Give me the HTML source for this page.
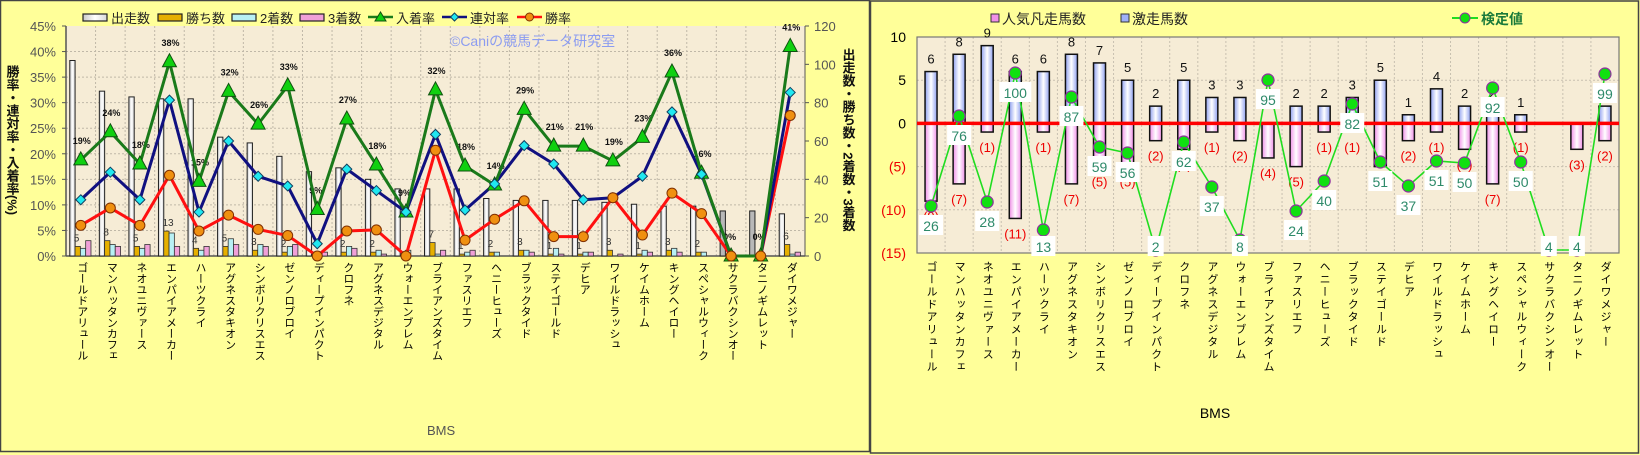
<!DOCTYPE html>
<html><head><meta charset="utf-8">
<style>
body{margin:0;background:#fff;}
svg{display:block;font-family:"Liberation Sans","Noto Sans CJK JP",sans-serif;}
</style></head>
<body>
<svg id="s" width="1640" height="455" xmlns="http://www.w3.org/2000/svg">
<defs>
<linearGradient id="gw" x1="0" x2="1"><stop offset="0" stop-color="#c8c8c8"/><stop offset="0.5" stop-color="#ffffff"/><stop offset="1" stop-color="#d8d8d8"/></linearGradient>
<linearGradient id="gb" x1="0" x2="1"><stop offset="0" stop-color="#8fa0f0"/><stop offset="0.5" stop-color="#ffffff"/><stop offset="1" stop-color="#8fa0f0"/></linearGradient>
<linearGradient id="gp" x1="0" x2="1"><stop offset="0" stop-color="#f090e8"/><stop offset="0.5" stop-color="#ffffff"/><stop offset="1" stop-color="#f090e8"/></linearGradient>
</defs>
<rect x="0" y="0" width="1640" height="455" fill="#ffff99"/>
<rect x="0.5" y="0.5" width="869" height="451" fill="#ffff99" stroke="#444" stroke-width="1.5"/>
<rect x="870.5" y="1" width="768" height="452" fill="#ffff99" stroke="#444" stroke-width="1.5"/>
<rect x="66" y="26" width="739" height="230" fill="#f6ecd6"/>
<rect x="917" y="37" width="702" height="216" fill="#f6ecd6"/>
<g id="g"></g>
</svg>
<script>
const NS="http://www.w3.org/2000/svg",G=document.getElementById("g");
function el(t,a,txt){const e=document.createElementNS(NS,t);for(const k in a)e.setAttribute(k,a[k]);if(txt!==undefined)e.textContent=txt;G.appendChild(e);return e;}
const names=["ゴールドアリュール","マンハッタンカフェ","ネオユニヴァース","エンパイアメーカー","ハーツクライ","アグネスタキオン","シンボリクリスエス","ゼンノロブロイ","ディープインパクト","クロフネ","アグネスデジタル","ウォーエンブレム","ブライアンズタイム","ファスリエフ","ヘニーヒューズ","ブラックタイド","ステイゴールド","デヒア","ワイルドラッシュ","ケイムホーム","キングヘイロー","スペシャルウィーク","サクラバクシンオー","タニノギムレット","ダイワメジャー"];
const nyu=[18.8,24.3,18,38,14.6,32.2,25.8,33.3,9.1,26.8,17.8,8.6,32.5,17.6,13.9,28.7,21.5,21.5,18.6,23.2,36,16.2,0,0,41];
const ren=[11,16.4,11,30.5,8.6,22.5,15.6,13.7,2.4,17,12.8,8.6,23.8,9,14.1,21.6,18,11,11.4,15.6,28.2,16,0,0,32];
const win=[6,9.4,6,15.8,4.9,8,5.2,4,0,4.9,5.1,0,20.7,3.1,7.2,10.8,3.8,3.8,11.4,4.1,12.3,8.3,0,0,27.5];
const run=[102,86,83,82,82,62,59,52,44,46,40,35,35,35,30,29,29,29,28,27,26,26,23.5,23.5,22];
const w1=[5,8,5,13,4,5,3,2,0,2,2,0,7,1,2,3,1,1,3,1,3,2,0,0,6];
const w2=[4,6,4,12,3,9,6,5,1,5,3,3,1,2,2,3,4,2,0,3,4,2,0,0,1];
const w3=[8,5,6,5,5,6,5,6,2,4,1,0,3,3,0,2,1,2,1,2,2,0,0,0,2];
const nyuLbl=["19%","24%","18%","38%","15%","32%","26%","33%","9%","27%","18%","9%","32%","18%","14%","29%","21%","21%","19%","23%","36%","16%","0%","0%","41%"];
// LEFT CHART
const X0=66,CW=739/25,YB=256,PY=5.111,CY=1.9167;
const cx=i=>X0+CW*(i+0.5),py=p=>YB-p*PY,cy=c=>YB-c*CY;
for(let k=1;k<25;k++)el("line",{x1:X0+CW*k,x2:X0+CW*k,y1:26,y2:256,stroke:"#c0b8a8","stroke-dasharray":"2,2","stroke-width":1});
for(let k=1;k<9;k++)el("line",{x1:66,x2:805,y1:py(k*5),y2:py(k*5),stroke:"#c0b8a8","stroke-dasharray":"2,2","stroke-width":1});
el("line",{x1:66,x2:66,y1:26,y2:256,stroke:"#555","stroke-width":1.5});
el("line",{x1:66,x2:805,y1:256,y2:256,stroke:"#555","stroke-width":1.5});
el("line",{x1:805,x2:805,y1:26,y2:256,stroke:"#555","stroke-width":1});
for(let k=0;k<=9;k++){el("text",{x:56,y:py(k*5)+5,"text-anchor":"end","font-size":13,fill:"#555"},(k*5)+"%");el("line",{x1:62,x2:66,y1:py(k*5),y2:py(k*5),stroke:"#555"});}
for(let k=0;k<=6;k++){el("text",{x:814,y:cy(k*20)+5,"font-size":13,fill:"#555"},String(k*20));el("line",{x1:805,x2:809,y1:cy(k*20),y2:cy(k*20),stroke:"#555"});}
for(let i=0;i<25;i++){
 const c=cx(i),bw=5.3,b=c-11;
 el("rect",{x:b,y:cy(run[i]),width:bw,height:run[i]*CY,fill:(i==22||i==23)?"#b8b8b8":"url(#gw)",stroke:"#222","stroke-width":1});
 const cols=["#e6b000","#b8f0f4","#f0a0d8"],vals=[w1[i],w2[i],w3[i]];
 for(let j=0;j<3;j++)if(vals[j]>0)el("rect",{x:b+bw*(j+1),y:cy(vals[j]),width:bw,height:vals[j]*CY,fill:cols[j],stroke:"#333","stroke-width":0.8});
 if(w1[i]>0)el("text",{x:b+4,y:cy(w1[i])-5,"font-size":10,fill:"#333"},String(w1[i]));
 el("text",{x:c-8,y:py(nyu[i])-16,"font-size":9,"font-weight":"bold",fill:"#111"},nyuLbl[i]);
 const t=el("text",{x:c+2,y:262,"font-size":11,fill:"#000",style:"writing-mode:vertical-rl;font-family:'Noto Sans CJK JP',sans-serif"},names[i]);
}
function poly(arr,fn,col){el("polyline",{points:arr.map((v,i)=>cx(i)+","+fn(v)).join(" "),fill:"none",stroke:col,"stroke-width":3,"stroke-linejoin":"round"});}
poly(win,py,"#ff1010");poly(ren,py,"#101080");poly(nyu,py,"#1a7a1a");
for(let i=0;i<25;i++){
 const c=cx(i);let y=py(nyu[i]);
 el("polygon",{points:`${c},${y-8} ${c-7},${y+5} ${c+7},${y+5}`,fill:"#10d010",stroke:"#105010","stroke-width":1});
 y=py(ren[i]);el("polygon",{points:`${c},${y-5} ${c+5},${y} ${c},${y+5} ${c-5},${y}`,fill:"#20e8f0",stroke:"#104060","stroke-width":1});
 el("circle",{cx:c,cy:py(win[i]),r:5,fill:"#f09010",stroke:"#803000","stroke-width":1});
}
el("text",{x:450,y:46,"font-size":14,fill:"#8c9cf0"},"©Caniの競馬データ研究室");
// left legend
function lbox(x,f,t){el("rect",{x:x,y:14,width:24,height:7,fill:f,stroke:"#222","stroke-width":1.2});el("text",{x:x+28,y:23,"font-size":13,fill:"#222"},t);}
lbox(83,"url(#gw)","出走数");lbox(158,"#e6b000","勝ち数");lbox(232,"#b8f0f4","2着数");lbox(300,"#f0a0d8","3着数");
el("line",{x1:368,x2:393,y1:17,y2:17,stroke:"#1a7a1a","stroke-width":2.5});el("polygon",{points:"380.5,12 375,21 386,21",fill:"#10d010",stroke:"#105010"});el("text",{x:396,y:23,"font-size":13,fill:"#222"},"入着率");
el("line",{x1:442,x2:467,y1:17,y2:17,stroke:"#101080","stroke-width":2.5});el("polygon",{points:"454.5,13 458.5,17 454.5,21 450.5,17",fill:"#20e8f0",stroke:"#104060"});el("text",{x:470,y:23,"font-size":13,fill:"#222"},"連対率");
el("line",{x1:517,x2:542,y1:17,y2:17,stroke:"#ff1010","stroke-width":2.5});el("circle",{cx:529.5,cy:17,r:4,fill:"#f09010",stroke:"#803000"});el("text",{x:545,y:23,"font-size":13,fill:"#222"},"勝率");
el("text",{x:12,y:140,"font-size":13,fill:"#111","text-anchor":"middle",style:"writing-mode:vertical-rl","font-weight":"bold"},"勝率・連対率・入着率(%)");
el("text",{x:848,y:140,"font-size":13,fill:"#111","text-anchor":"middle",style:"writing-mode:vertical-rl","font-weight":"bold"},"出走数・勝ち数・2着数・3着数");
el("text",{x:427,y:435,"font-size":13,fill:"#555"},"BMS");
// RIGHT CHART
const RX=917,RW=702/25,Z=123.4,U=8.64;
const rx=i=>RX+RW*(i+0.5),ry=v=>Z-v*U;
const pos=[6,8,9,6,6,8,7,5,2,5,3,3,0,2,2,3,5,1,4,2,2,1,0,0,2];
const neg=[9,7,1,11,1,7,5,5,2,3,1,2,4,5,1,1,5,2,1,3,7,1,0,3,2];
const kv=[26,76,28,100,13,87,59,56,2,62,37,8,95,24,40,82,51,37,51,50,92,50,4,4,99];
const ky=[206,116,202,73,230,97,147,153,250,142,187,240,80,211,181,104,162,186,161,163,88,162,250,250,74];
for(let k=1;k<25;k++)el("line",{x1:RX+RW*k,x2:RX+RW*k,y1:37,y2:253,stroke:"#c8c0b0","stroke-dasharray":"2,2"});
for(const v of [5,-5,-10])el("line",{x1:917,x2:1619,y1:ry(v),y2:ry(v),stroke:"#c8c0b0","stroke-dasharray":"2,2"});
el("rect",{x:917,y:37,width:702,height:216,fill:"none",stroke:"#777","stroke-width":1.2});
const tl=[[10,"10","#000"],[5,"5","#000"],[0,"0","#000"],[-5,"(5)","#e00"],[-10,"(10)","#e00"],[-15,"(15)","#e00"]];
for(const [v,t,c] of tl)el("text",{x:906,y:ry(v)+5,"text-anchor":"end","font-size":14,fill:c},t);
for(let i=0;i<25;i++){
 const c=rx(i);
 if(pos[i]>0){el("rect",{x:c-6,y:ry(pos[i]),width:12,height:pos[i]*U,fill:"url(#gb)",stroke:"#111","stroke-width":1.5});}
 if(neg[i]>0){el("rect",{x:c-6,y:Z,width:12,height:neg[i]*U,fill:"url(#gp)",stroke:"#111","stroke-width":1.5});}
 if(pos[i]>0)el("text",{x:c,y:ry(pos[i])-8,"text-anchor":"middle","font-size":13,fill:"#111"},String(pos[i]));
 if(neg[i]>0)el("text",{x:c,y:ry(-neg[i])+20,"text-anchor":"middle","font-size":13,fill:"#e00"},"("+neg[i]+")");
 el("text",{x:c+1,y:261,"font-size":11,fill:"#000","letter-spacing":"1.5",style:"writing-mode:vertical-rl;font-family:'Noto Sans CJK JP',sans-serif"},names[i]);
}
el("line",{x1:917,x2:1619,y1:Z,y2:Z,stroke:"#ff0000","stroke-width":3.5});
el("polyline",{points:kv.map((v,i)=>rx(i)+","+ky[i]).join(" "),fill:"none",stroke:"#20dd20","stroke-width":1.6});
for(let i=0;i<25;i++){
 el("circle",{cx:rx(i),cy:ky[i],r:6,fill:"#10e010",stroke:"#9030a0","stroke-width":1.2});
}
for(let i=0;i<25;i++){
 const ly=Math.min(ky[i]+20,247),t=String(kv[i]),w=t.length*8+8;
 el("rect",{x:rx(i)-w/2,y:ly-11,width:w,height:20,fill:"#fff"});
 el("text",{x:rx(i),y:ly+5,"text-anchor":"middle","font-size":14,fill:"#2e8a6a"},t);
}
el("rect",{x:991,y:14,width:8,height:8,fill:"#f090e8",stroke:"#333"});el("text",{x:1002,y:24,"font-size":14,fill:"#222"},"人気凡走馬数");
el("rect",{x:1121,y:14,width:8,height:8,fill:"#a0b0f8",stroke:"#333"});el("text",{x:1132,y:24,"font-size":14,fill:"#222"},"激走馬数");
el("line",{x1:1452,x2:1478,y1:18,y2:18,stroke:"#20dd20","stroke-width":2});el("circle",{cx:1465,cy:18,r:5,fill:"#10e010",stroke:"#9030a0"});
el("text",{x:1481,y:24,"font-size":14,"font-weight":"bold",fill:"#1a7a3a"},"検定値");
el("text",{x:1215,y:418,"text-anchor":"middle","font-size":14,fill:"#000"},"BMS");
</script>
</body></html>
